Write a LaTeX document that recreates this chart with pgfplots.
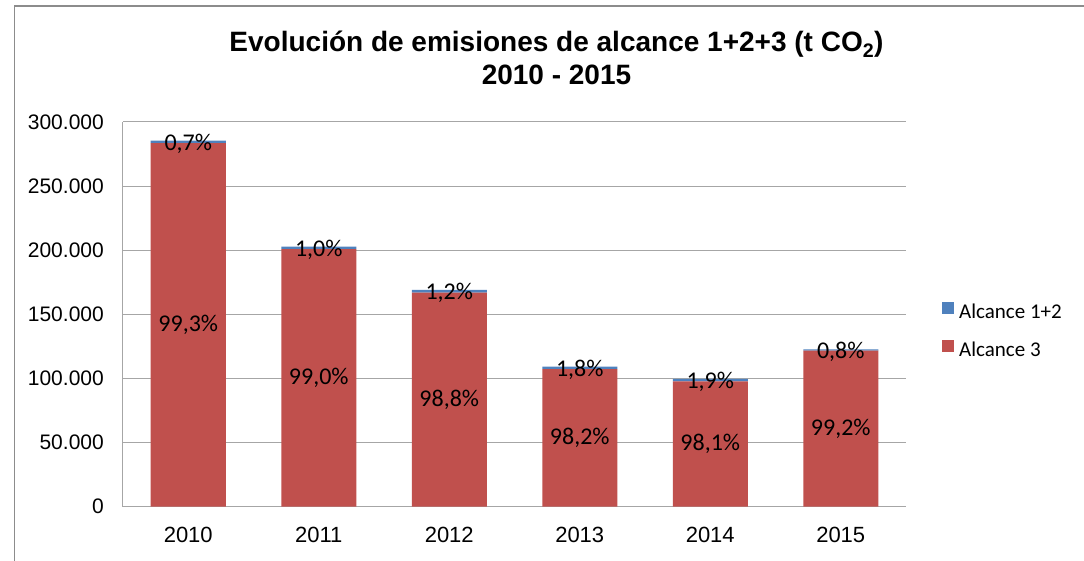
\documentclass[border=0pt]{standalone}
\usepackage{pgfplots}
\usepackage{pgfplotstable}
\pgfplotsset{compat=1.18}
\usepackage{fontspec}
\setmainfont{Liberation Sans}
\newfontfamily\calibri{Carlito}
\definecolor{redbar}{HTML}{C0504D}
\definecolor{bluebar}{HTML}{4F81BD}
\definecolor{gridc}{HTML}{A6A6A6}
\definecolor{framec}{HTML}{8C8C8C}
\pgfplotstableread{
x r b rl bl
0 283500 2000 99,3 0,7
1 200800 2030 99,0 1,0
2 167000 2030 98,8 1,2
3 107200 1970 98,2 1,8
4 97700 1890 98,1 1,9
5 121700 980 99,2 0,8
}\datatable
\begin{document}
\begin{tikzpicture}[x=1pt,y=1pt]
\path[use as bounding box] (0,0) rectangle (1084,561);
\draw[framec, line width=1.2pt] (14.3,-2) -- (14.3,555) -- (1090,555);
\node[font=\bfseries\fontsize{28}{33}\selectfont, anchor=base] at (556.5,509) {Evolución de emisiones de alcance 1+2+3 (t CO\textsubscript{2})};
\node[font=\bfseries\fontsize{28}{33}\selectfont, anchor=base] at (556.5,476) {2010 - 2015};
\begin{axis}[
  at={(123pt,54.3pt)}, anchor=south west,
  scale only axis, width=783pt, height=384.7pt,
  ybar stacked, bar width=75pt,
  xmin=-0.5, xmax=5.5, ymin=0, ymax=300000,
  xtick={0,1,2,3,4,5}, xticklabels={2010,2011,2012,2013,2014,2015},
  ytick={0,50000,100000,150000,200000,250000,300000},
  scaled y ticks=false,
  /pgf/number format/fixed,
  /pgf/number format/1000 sep={.},
  /pgf/number format/assume math mode=true,
  axis lines*=left,
  axis line style={gridc, line width=1pt, -},
  ymajorgrids, major grid style={gridc, line width=1pt},
  major tick length=0pt,
  yticklabel style={font=\fontsize{21}{25}\selectfont, inner sep=0pt, anchor=east, xshift=-19pt},
  xticklabel style={font=\fontsize{22}{26}\selectfont, inner sep=0pt, anchor=north, yshift=-20pt},
  reverse legend,
  legend image code/.code={\fill[#1] (0pt,1pt) rectangle (12pt,13pt);},
  legend style={at={(1,0.5)}, anchor=west, xshift=36pt, yshift=-18pt,
    draw=none, fill=none, inner sep=0pt, row sep=15pt,
    font=\calibri\fontsize{21}{25}\selectfont,
    nodes={inner xsep=5pt, inner ysep=0pt, text height=14pt, text depth=6pt}},
  legend cell align=left,
]
\addplot[fill=redbar, draw=none, nodes near coords={\pgfplotspointmeta\%}, point meta=explicit symbolic,
  nodes near coords align={center},
  every node near coord/.append style={anchor=center, font=\calibri\fontsize{24}{28}\selectfont, text=black}]
  table[x=x, y=r, meta=rl] {\datatable};
\addlegendentry{Alcance 3}
\addplot[fill=bluebar, draw=none, nodes near coords={\pgfplotspointmeta\%}, point meta=explicit symbolic,
  nodes near coords align={center},
  every node near coord/.append style={anchor=center, yshift=-2pt, font=\calibri\fontsize{24}{28}\selectfont, text=black}]
  table[x=x, y=b, meta=bl] {\datatable};
\addlegendentry{Alcance 1+2}
\end{axis}
\end{tikzpicture}
\end{document}
